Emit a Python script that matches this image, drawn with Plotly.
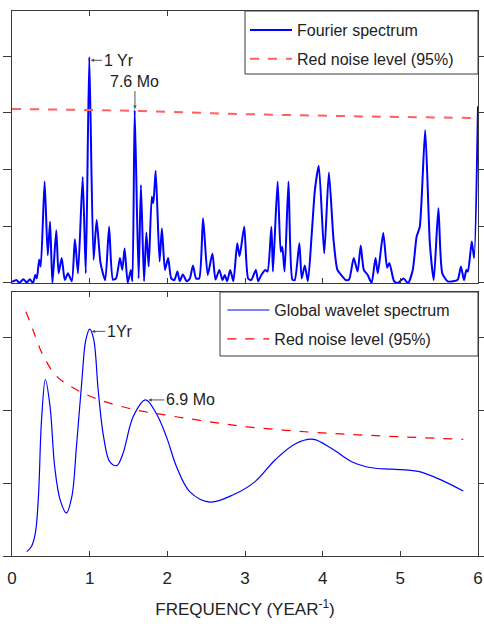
import plotly.graph_objects as go
from plotly.subplots import make_subplots

# Fourier power spectrum (frequency in 1/yr, power)
fourier_freq = [0, 0.06, 0.094, 0.146, 0.19, 0.23, 0.27, 0.30, 0.32, 0.35, 0.37, 0.42, 0.46, 0.49,
                0.52, 0.57, 0.60, 0.64, 0.68, 0.72, 0.77, 0.81, 0.85, 0.91, 0.95, 0.995, 1.05, 1.09,
                1.14, 1.20, 1.25, 1.30, 1.34, 1.39, 1.42, 1.45, 1.49, 1.53, 1.55, 1.58, 1.63, 1.66,
                1.70, 1.73, 1.76, 1.80, 1.82, 1.85, 1.90, 1.93, 1.97, 2.01, 2.05, 2.09, 2.13, 2.16,
                2.20, 2.25, 2.29, 2.33, 2.37, 2.41, 2.46, 2.52, 2.58, 2.62, 2.67, 2.71, 2.74, 2.77,
                2.81, 2.85, 2.90, 2.93, 2.99, 3.04, 3.08, 3.14, 3.17, 3.21, 3.26, 3.29, 3.34, 3.36,
                3.42, 3.46, 3.48, 3.51, 3.56, 3.61, 3.64, 3.70, 3.73, 3.77, 3.81, 3.86, 3.90, 3.95,
                4.02, 4.08, 4.14, 4.19, 4.24, 4.30, 4.34, 4.40, 4.45, 4.49, 4.53, 4.58, 4.63, 4.68,
                4.71, 4.78, 4.83, 4.86, 4.92, 4.97, 5.04, 5.10, 5.16, 5.21, 5.25, 5.32, 5.38, 5.43,
                5.49, 5.54, 5.61, 5.68, 5.74, 5.78, 5.82, 5.85, 5.87, 5.92, 5.95, 6.0]
fourier_power = [0.02, 0.05, 0.0, 0.065, 0.01, 0.065, 0.0, 0.14, 0.08, 0.41, 0.29, 1.79, 0.49, 1.08,
                 0.0, 0.93, 0.17, 0.44, 0.05, 0.17, 0.03, 0.77, 0.17, 1.87, 0.17, 3.99, 0.41, 1.11,
                 0.35, 0.05, 0.99, 0.06, 0.08, 0.44, 0.23, 0.61, 0.0, 0.23, 0.03, 3.05, 0.08, 1.73,
                 0.03, 0.89, 0.29, 1.52, 1.41, 1.98, 0.38, 0.96, 0.23, 0.44, 0.08, 0.05, 0.20, 0.03,
                 0.15, 0.03, 0.08, 0.31, 0.08, 0.08, 1.14, 0.14, 0.52, 0.06, 0.23, 0.05, 0.14, 0.03,
                 0.23, 0.03, 0.70, 0.47, 0.99, 0.08, 0.05, 0.23, 0.03, 0.14, 0.23, 0.20, 0.99, 0.20,
                 1.79, 0.55, 0.64, 0.20, 1.79, 0.06, 0.05, 0.70, 0.08, 0.31, 0.03, 0.88, 1.64, 2.07,
                 0.52, 1.95, 0.76, 0.23, 0.14, 0.05, 0.06, 0.44, 0.20, 0.66, 0.23, 0.14, 0.0, 0.44,
                 0.17, 0.88, 0.27, 0.35, 0.03, 0.0, 0.08, 0.0, 0.23, 0.82, 0.99, 2.70, 0.70, 0.05,
                 1.32, 0.17, 0.03, 0.03, 0.06, 0.29, 0.05, 0.23, 0.20, 0.73, 0.44, 3.12]

# 95% red-noise level for the Fourier spectrum
fourier_noise_freq = [0, 1.5, 3.0, 4.5, 6.0]
fourier_noise_level = [3.07, 3.04, 2.98, 2.94, 2.91]

# Global wavelet spectrum
wavelet_freq = [0.19, 0.25, 0.30, 0.34, 0.38, 0.43, 0.49, 0.55, 0.62, 0.70, 0.77, 0.83, 0.90, 0.95,
                1.0, 1.05, 1.11, 1.18, 1.26, 1.35, 1.43, 1.56, 1.72, 1.86, 1.99, 2.12, 2.29, 2.55,
                2.85, 3.13, 3.39, 3.65, 3.88, 4.12, 4.38, 4.63, 4.89, 5.23, 5.53, 5.81]
wavelet_power = [0.06, 0.13, 0.31, 0.81, 1.86, 2.42, 2.05, 1.22, 0.77, 0.59, 0.81, 1.50, 2.41, 2.96,
                 3.11, 2.98, 2.27, 1.63, 1.29, 1.24, 1.41, 1.91, 2.14, 1.95, 1.63, 1.22, 0.88, 0.74,
                 0.84, 1.02, 1.32, 1.54, 1.60, 1.47, 1.29, 1.21, 1.19, 1.16, 1.04, 0.89]

# 95% red-noise level for the global wavelet spectrum
wavelet_noise_freq = [0.18, 0.27, 0.40, 0.58, 0.83, 1.13, 1.56, 1.99, 2.42, 2.96, 3.82, 4.68, 5.81]
wavelet_noise_level = [3.35, 3.10, 2.75, 2.46, 2.28, 2.14, 2.01, 1.93, 1.86, 1.78, 1.70, 1.65, 1.60]

x_ticks = [0, 1, 2, 3, 4, 5, 6]

FONT = "Liberation Sans, Arial, Helvetica, sans-serif"
AX_COLOR = "#3a3a3a"
TXT_COLOR = "#222222"

# panel domains (paper fractions)
TOP_DOMAIN = [0.501, 1.0]
BOTTOM_DOMAIN = [0.0, 0.4844]

fig = make_subplots(rows=2, cols=1, shared_xaxes=False, vertical_spacing=0.0)

fig.add_trace(go.Scatter(x=fourier_freq, y=fourier_power, mode="lines",
                         line=dict(color="#0000ff", width=2, shape="spline", smoothing=0.6),
                         name="Fourier spectrum", legend="legend", legendgroup="a"),
              row=1, col=1)
fig.add_trace(go.Scatter(x=fourier_noise_freq, y=fourier_noise_level, mode="lines",
                         line=dict(color="#ff6060", width=2, dash="dash", shape="spline"),
                         name="Red noise level (95%)", legend="legend", legendgroup="b"),
              row=1, col=1)
fig.add_trace(go.Scatter(x=wavelet_freq, y=wavelet_power, mode="lines",
                         line=dict(color="#0000ff", width=1.2, shape="spline", smoothing=1.0),
                         name="Global wavelet spectrum", legend="legend2", legendgroup="c"),
              row=2, col=1)
fig.add_trace(go.Scatter(x=wavelet_noise_freq, y=wavelet_noise_level, mode="lines",
                         line=dict(color="#ff0000", width=1.2, dash="dash", shape="spline"),
                         name="Red noise level (95%)", legend="legend2", legendgroup="d"),
              row=2, col=1)

axis_common = dict(showline=True, linecolor=AX_COLOR, linewidth=1.3, mirror="ticks",
                   showgrid=False, zeroline=False, tickcolor=AX_COLOR, automargin=False)
fig.update_xaxes(range=[0, 6], tickvals=x_ticks, ticks="inside", ticklen=5, **axis_common)
fig.update_xaxes(showticklabels=False, row=1, col=1)
fig.update_xaxes(ticktext=[str(v) for v in x_ticks], showticklabels=True,
                 ticklabelstandoff=6,
                 tickfont=dict(family=FONT, size=17, color=TXT_COLOR),
                 title=dict(text="FREQUENCY (YEAR<sup>-1</sup>)",
                            font=dict(family=FONT, size=17, color=TXT_COLOR), standoff=16),
                 row=2, col=1)
fig.update_yaxes(ticks="outside", ticklen=8, showticklabels=False, dtick=1, **axis_common)
fig.update_yaxes(range=[0, 4.8], row=1, col=1)
fig.update_yaxes(range=[0, 3.62], row=2, col=1)

# legend frames drawn as shapes, legends placed inside them
fig.add_shape(type="rect", xref="paper", yref="paper", x0=0.5, x1=1.0, y0=0.8844, y1=1.0,
              line=dict(color=AX_COLOR, width=1), fillcolor="white", layer="above")
fig.add_shape(type="rect", xref="paper", yref="paper", x0=0.4464, x1=1.0, y0=0.367,
              y1=BOTTOM_DOMAIN[1], line=dict(color=AX_COLOR, width=1), fillcolor="white",
              layer="above")

legend_common = dict(xanchor="left", yanchor="top", bgcolor="rgba(0,0,0,0)",
                     borderwidth=0, tracegroupgap=5, traceorder="grouped", itemwidth=42,
                     font=dict(family=FONT, size=16, color=TXT_COLOR))

fig.update_layout(
    width=484, height=628,
    margin=dict(l=12, r=6, t=11, b=72, autoexpand=False),
    paper_bgcolor="white", plot_bgcolor="white",
    font=dict(family=FONT, size=16, color=TXT_COLOR),
    xaxis=dict(domain=[0, 1]), xaxis2=dict(domain=[0, 1]),
    yaxis=dict(domain=TOP_DOMAIN), yaxis2=dict(domain=BOTTOM_DOMAIN),
    legend=dict(x=0.5, y=0.9963, **legend_common),
    legend2=dict(x=0.4464 + 0.005, y=BOTTOM_DOMAIN[1] - 0.002, **legend_common),
    showlegend=True,
)

ARROW = dict(showarrow=True, arrowhead=2, arrowsize=0.7, arrowwidth=1, arrowcolor="#555555",
             standoff=0, font=dict(family=FONT, size=16, color=TXT_COLOR))

# Peak labels, Fourier spectrum
fig.add_annotation(x=1.013, y=3.93, xref="x", yref="y", text="1 Yr", ax=28, ay=0, **ARROW)
fig.add_annotation(x=1.583, y=3.07, xref="x", yref="y", text="7.6 Mo", ax=0, ay=-28, **ARROW)

# Peak labels, global wavelet spectrum
fig.add_annotation(x=1.026, y=3.08, xref="x2", yref="y2", text="1Yr", ax=28, ay=0, **ARROW)
fig.add_annotation(x=1.754, y=2.14, xref="x2", yref="y2", text="6.9 Mo", ax=42, ay=0, **ARROW)

fig.write_html("out.html")
